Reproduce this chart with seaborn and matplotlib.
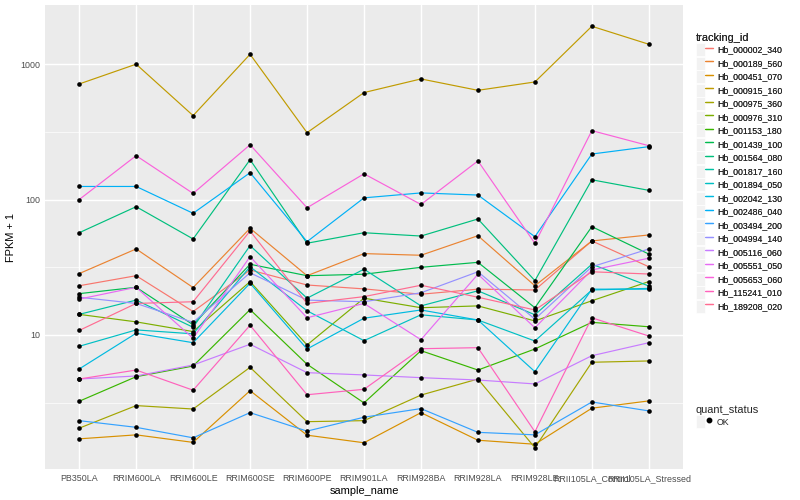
import matplotlib
matplotlib.use("Agg")
import matplotlib.pyplot as plt
import seaborn as sns
import pandas as pd
import numpy as np
from matplotlib.lines import Line2D
from matplotlib.patches import Rectangle
from matplotlib.legend_handler import HandlerTuple

samples = ["PB350LA", "RRIM600LA", "RRIM600LE", "RRIM600SE", "RRIM600PE",
           "RRIM901LA", "RRIM928BA", "RRIM928LA", "RRIM928LE",
           "RRII105LA_Control", "RRII105LA_Stressed"]

tracking_ids = ["Hb_000002_340", "Hb_000189_560", "Hb_000451_070", "Hb_000915_160",
                "Hb_000975_360", "Hb_000976_310", "Hb_001153_180", "Hb_001439_100",
                "Hb_001564_080", "Hb_001817_160", "Hb_001894_050", "Hb_002042_130",
                "Hb_002486_040", "Hb_003494_200", "Hb_004994_140", "Hb_005116_060",
                "Hb_005551_050", "Hb_005653_060", "Hb_115241_010", "Hb_189208_020"]

colors = ["#F8766D", "#EA8331", "#D89000", "#C09B00", "#A3A500", "#7CAE00",
          "#39B600", "#00BB4E", "#00BF7D", "#00C1A3", "#00BFC4", "#00BAE0",
          "#00B0F6", "#35A2FF", "#9590FF", "#C77CFF", "#E76BF3", "#FA62DB",
          "#FF62BC", "#FF6C91"]

# FPKM + 1 per sample (order of `samples`)
hb_000002_340 = [23.1, 27.4, 14.9, 30.2, 23.4, 21.9, 20.0, 21.8, 21.5, 49.5, 31.9]
hb_000189_560 = [28.4, 43.2, 22.4, 61.4, 27.4, 39.9, 38.8, 54.1, 23.1, 49.5, 54.8]
hb_000451_070 = [1.71, 1.83, 1.61, 3.88, 1.82, 1.60, 2.67, 1.67, 1.56, 2.88, 3.26]
hb_000915_160 = [714, 1000, 417, 1183, 312, 617, 778, 641, 739, 1905, 1403]
hb_000975_360 = [2.05, 3.01, 2.84, 5.77, 2.29, 2.33, 3.60, 4.73, 1.47, 6.29, 6.43]
hb_000976_310 = [14.2, 12.5, 10.6, 24.8, 8.44, 18.7, 15.9, 16.4, 12.7, 17.9, 24.8]
hb_001153_180 = [3.24, 4.92, 5.90, 15.4, 6.08, 3.15, 7.66, 5.51, 7.88, 12.4, 11.5]
hb_001439_100 = [20.2, 22.5, 11.9, 33.3, 27.4, 28.1, 31.6, 34.4, 15.9, 63.1, 39.6]
hb_001564_080 = [56.9, 88.6, 51.2, 197, 47.6, 56.9, 53.8, 71.9, 25.2, 140, 117]
hb_001817_160 = [14.2, 18.1, 11.4, 45.7, 18.7, 30.6, 16.4, 21.2, 14.1, 33.3, 23.0]
hb_001894_050 = [8.25, 10.9, 10.2, 31.9, 15.1, 9.08, 14.1, 12.9, 9.03, 21.5, 22.1]
hb_002042_130 = [5.61, 10.3, 8.77, 24.1, 7.88, 13.3, 15.3, 12.9, 5.36, 21.8, 21.8]
hb_002486_040 = [125, 125, 79.2, 158, 48.9, 103, 112, 108, 53.2, 217, 246]
hb_003494_200 = [2.33, 2.08, 1.74, 2.67, 1.95, 2.47, 2.86, 1.91, 1.83, 3.20, 2.75]
hb_004994_140 = [19.0, 17.1, 12.4, 28.8, 18.1, 17.6, 20.5, 29.3, 13.1, 31.9, 43.2]
hb_005116_060 = [4.73, 4.98, 6.00, 8.54, 5.27, 5.07, 4.84, 4.65, 4.35, 7.03, 8.77]
hb_005551_050 = [18.4, 22.5, 9.45, 37.9, 13.4, 17.1, 9.23, 28.1, 11.3, 30.2, 36.9]
hb_005653_060 = [100, 211, 111, 254, 87, 155, 92, 193, 47.5, 323, 250]
hb_115241_010 = [4.73, 5.51, 3.91, 11.8, 3.62, 3.97, 7.92, 8.06, 1.93, 13.4, 9.83]
hb_189208_020 = [10.8, 17.1, 17.6, 58.6, 17.1, 19.2, 23.3, 19.0, 15.3, 29.3, 28.2]

series = [hb_000002_340, hb_000189_560, hb_000451_070, hb_000915_160, hb_000975_360,
          hb_000976_310, hb_001153_180, hb_001439_100, hb_001564_080, hb_001817_160,
          hb_001894_050, hb_002042_130, hb_002486_040, hb_003494_200, hb_004994_140,
          hb_005116_060, hb_005551_050, hb_005653_060, hb_115241_010, hb_189208_020]

rows = []
for tid, vals in zip(tracking_ids, series):
    for i, (s, v) in enumerate(zip(samples, vals)):
        rows.append({"tracking_id": tid, "sample_name": s, "pos": i, "FPKM": v,
                     "quant_status": "OK"})
df = pd.DataFrame(rows)

sns.set_style("white")
plt.rcParams["font.family"] = ["Liberation Sans", "DejaVu Sans"]

fig = plt.figure(figsize=(8, 5), dpi=100)
ax = fig.add_axes([45 / 800, 1 - 469 / 500, (683 - 45) / 800, (469 - 5) / 500])
ax.set_facecolor("#EBEBEB")
ax.set_yscale("log")

sns.lineplot(data=df, x="pos", y="FPKM", hue="tracking_id", hue_order=tracking_ids,
             palette=colors, legend=False, sort=False, estimator=None,
             linewidth=0.85, ax=ax, zorder=3)
sns.scatterplot(data=df, x="pos", y="FPKM", color="black", s=11, linewidth=0,
                legend=False, ax=ax, zorder=4)

ax.set_xlim(-0.6, len(samples) - 1 + 0.6)
ax.set_ylim(10 ** 0.0103, 10 ** 3.437)

ax.set_xticks(range(len(samples)))
ax.set_xticklabels(samples)
ax.set_yticks([10, 100, 1000])
ax.set_yticklabels(["10", "100", "1000"])
ax.set_yticks([10 ** 0.5, 10 ** 1.5, 10 ** 2.5], minor=True)
ax.set_xticks(np.arange(len(samples)), minor=False)
ax.tick_params(axis="both", which="major", length=2.0, width=0.8, color="#333333",
               labelsize=6.4, labelcolor="#4D4D4D", pad=1.5)
ax.tick_params(axis="y", which="minor", length=0)
ax.grid(True, which="major", color="white", linewidth=1.05, zorder=0)
ax.grid(True, which="minor", axis="y", color="white", linewidth=0.5, zorder=0)
ax.set_axisbelow(True)
for sp in ax.spines.values():
    sp.set_visible(False)

ax.set_xlabel("sample_name", fontsize=7.9, color="black", labelpad=2)
ax.set_ylabel("FPKM + 1", fontsize=7.9, color="black", labelpad=3)

# legends
hmap = {tuple: HandlerTuple(ndivide=None, pad=0)}
handles = []
for c in colors:
    handles.append((Rectangle((0, 0), 1, 1, facecolor="#F2F2F2", edgecolor="white", linewidth=0.5),
                    Line2D([], [], color=c, lw=0.9)))
leg1 = fig.legend(handles, tracking_ids, handler_map=hmap, loc="upper left",
                  bbox_to_anchor=(696 / 800, 1 - 33 / 500), frameon=False,
                  fontsize=6.3, title="tracking_id", title_fontsize=7.9,
                  handlelength=1.95, handleheight=1.95, labelspacing=0.03,
                  handletextpad=0.45, borderpad=0, borderaxespad=0, alignment="left")
fig.add_artist(leg1)

h2 = [(Rectangle((0, 0), 1, 1, facecolor="#F2F2F2", edgecolor="white", linewidth=0.5),
       Line2D([], [], color="black", marker="o", markersize=3.2, linestyle="none"))]
leg2 = fig.legend(h2, ["OK"], handler_map=hmap, loc="upper left",
                  bbox_to_anchor=(696 / 800, 1 - 405 / 500), frameon=False,
                  fontsize=6.3, title="quant_status", title_fontsize=7.9,
                  handlelength=1.95, handleheight=1.95, labelspacing=0.03,
                  handletextpad=0.45, borderpad=0, borderaxespad=0, alignment="left")

fig.savefig("out.png", dpi=100)
